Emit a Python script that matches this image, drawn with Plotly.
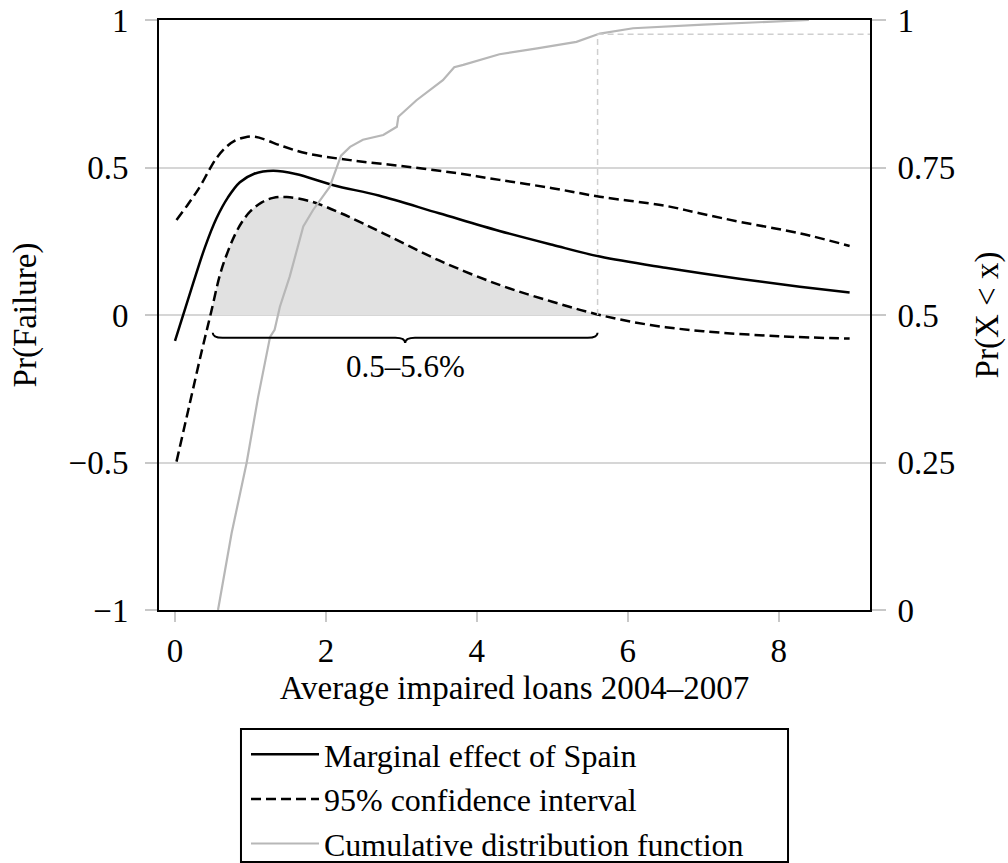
import numpy as np
import plotly.graph_objects as go

# ---- data ----
me_x = [0.0, 0.24, 0.4, 0.55, 0.7, 0.86, 1.05, 1.3, 1.6, 2.1, 2.7, 3.5, 4.3, 5.0, 5.63, 6.5, 7.5, 8.28, 8.94]
me_y = [-0.088, 0.107, 0.232, 0.328, 0.398, 0.45, 0.479, 0.489, 0.478, 0.44, 0.405, 0.345, 0.285, 0.238, 0.198, 0.16, 0.122, 0.096, 0.076]

up_x = [0.02, 0.18, 0.33, 0.45, 0.55, 0.68, 0.8, 0.92, 1.06, 1.44, 1.74, 2.32, 3.0, 3.7, 4.3, 5.0, 5.63, 6.5, 6.95, 7.5, 8.28, 8.94]
up_y = [0.322, 0.378, 0.435, 0.49, 0.532, 0.570, 0.592, 0.602, 0.604, 0.571, 0.548, 0.525, 0.505, 0.482, 0.458, 0.43, 0.401, 0.37, 0.345, 0.315, 0.277, 0.234]

lo_x = [0.02, 0.2, 0.35, 0.47, 0.6, 0.7, 0.8, 0.9, 1.0, 1.15, 1.3, 1.48, 1.8, 2.2, 2.76, 3.5, 4.3, 5.0, 5.63, 6.3, 7.0, 8.0, 8.94]
lo_y = [-0.497, -0.295, -0.127, 0.0, 0.14, 0.215, 0.275, 0.32, 0.352, 0.382, 0.397, 0.40, 0.385, 0.345, 0.277, 0.185, 0.102, 0.045, 0.0, -0.034, -0.055, -0.072, -0.08]

cdf_x = [0.57, 0.75, 0.95, 1.1, 1.26, 1.32, 1.39, 1.52, 1.7, 1.83, 2.05, 2.2, 2.32, 2.49, 2.76, 2.94, 2.96,
         3.2, 3.55, 3.7, 3.82, 4.3, 4.8, 5.32, 5.63, 6.07, 7.0, 7.84, 8.4]
cdf_y = [0.0, 0.13, 0.25, 0.36, 0.463, 0.475, 0.514, 0.565, 0.65, 0.678, 0.717, 0.77, 0.785, 0.797, 0.805, 0.819, 0.836,
         0.864, 0.898, 0.92, 0.924, 0.942, 0.952, 0.963, 0.977, 0.986, 0.992, 0.997, 1.0]

sig_range = [0.5, 5.6]
sig_label = "0.5–5.6%"

x_ticks = [0, 2, 4, 6, 8]
y_ticks = [-1, -0.5, 0, 0.5, 1]
y_ticktext = ["−1", "−0.5", "0", "0.5", "1"]
y2_ticks = [0, 0.25, 0.5, 0.75, 1]
y2_ticktext = ["0", "0.25", "0.5", "0.75", "1"]

FONT = "Liberation Serif"
XR = [-0.212, 9.21]
TICK_SIZE = 33
TITLE_SIZE = 33
LEG_SIZE = 32

# shaded region: positive part of lower CI
lx = np.array(lo_x); ly = np.array(lo_y)
pos = ly >= 0
fx = lx[pos]; fy = ly[pos]

fig = go.Figure()
fig.add_trace(go.Scatter(x=fx, y=fy, mode="lines", fill="tozeroy", fillcolor="#e1e1e1",
                         line=dict(width=0, shape="spline"), showlegend=False, hoverinfo="skip"))

fig.add_trace(go.Scatter(x=me_x, y=me_y, mode="lines", name="Marginal effect of Spain",
                         line=dict(color="black", width=2.5, shape="spline")))
fig.add_trace(go.Scatter(x=up_x, y=up_y, mode="lines", name="95% confidence interval",
                         line=dict(color="black", width=2.5, dash="10px,5px", shape="spline")))
fig.add_trace(go.Scatter(x=lo_x, y=lo_y, mode="lines", showlegend=False,
                         line=dict(color="black", width=2.5, dash="10px,5px", shape="spline")))
fig.add_trace(go.Scatter(x=cdf_x, y=cdf_y, mode="lines", name="Cumulative distribution function",
                         line=dict(color="#b7b7b7", width=2.2), yaxis="y2"))

# reference lines at upper end of significance range
cdf_at = float(np.interp(sig_range[1], cdf_x, cdf_y))
fig.add_shape(type="line", xref="x", yref="y", x0=sig_range[1], x1=sig_range[1], y0=0, y1=2 * cdf_at - 1,
              line=dict(color="#cfcfcf", width=1.5, dash="6px,4px"))
fig.add_shape(type="line", xref="x", yref="y2", x0=sig_range[1], x1=XR[1], y0=cdf_at, y1=cdf_at,
              line=dict(color="#cfcfcf", width=1.5, dash="6px,4px"))

# brace under the significance range
x0, x1 = sig_range
xm = (x0 + x1) / 2
yl, yt, yb = -0.077, -0.060, -0.095
d = 0.13
path = (f"M {x0},{yt} Q {x0},{yl} {x0+d},{yl} L {xm-d},{yl} Q {xm},{yl} {xm},{yb} "
        f"Q {xm},{yl} {xm+d},{yl} L {x1-d},{yl} Q {x1},{yl} {x1},{yt}")
fig.add_shape(type="path", xref="x", yref="y", path=path, line=dict(color="black", width=2))
fig.add_annotation(x=xm, y=-0.175, xref="x", yref="y", text=sig_label, showarrow=False,
                   font=dict(family=FONT, size=31, color="black"))

# legend frame (centred under the axis)
fig.add_shape(type="rect", xref="paper", yref="paper", x0=0.1153, x1=0.8847, y0=-0.4271, y1=-0.2017,
              line=dict(color="black", width=2), fillcolor="rgba(0,0,0,0)")

fig.update_layout(
    width=1008, height=863,
    margin=dict(l=159, r=138, t=20, b=253, autoexpand=False),
    paper_bgcolor="white", plot_bgcolor="white",
    font=dict(family=FONT, size=TICK_SIZE, color="black"),
    xaxis=dict(range=XR, tickvals=x_ticks, ticks="outside", ticklen=10, tickcolor="#c8c8c8", tickwidth=1.5,
               showline=True, linecolor="black", linewidth=2, mirror=True, showgrid=False, zeroline=False,
               title=dict(text="Average impaired loans 2004–2007", standoff=8, font=dict(size=TITLE_SIZE)),
               ticklabelstandoff=0, automargin=False, tickfont=dict(size=TICK_SIZE),
               ticklabeloverflow="allow"),
    yaxis=dict(range=[-1, 1], tickvals=y_ticks, ticktext=y_ticktext, ticks="outside", ticklen=12,
               tickcolor="#c8c8c8", tickwidth=1.5, showline=True, linecolor="black", linewidth=2, mirror=True,
               showgrid=True, gridcolor="#d6d6d6", gridwidth=1.5, zeroline=False,
               title=dict(text="Pr(Failure)", standoff=22, font=dict(size=TITLE_SIZE)),
               ticklabelstandoff=10, automargin=False, tickfont=dict(size=TICK_SIZE),
               ticklabeloverflow="allow"),
    yaxis2=dict(range=[0, 1], tickvals=y2_ticks, ticktext=y2_ticktext, overlaying="y", side="right",
                ticks="outside", ticklen=14, tickcolor="#c8c8c8", tickwidth=1.5, showline=True,
                linecolor="black", linewidth=2, showgrid=False, zeroline=False,
                title=dict(text="Pr(X < x)", standoff=21, font=dict(size=TITLE_SIZE)),
                ticklabelstandoff=5, automargin=False, tickfont=dict(size=TICK_SIZE),
                ticklabeloverflow="allow"),
    legend=dict(x=(246 - 159) / 711, y=(610 - 727) / 590, xanchor="left", yanchor="top",
                borderwidth=0, bgcolor="rgba(0,0,0,0)",
                font=dict(family=FONT, size=LEG_SIZE), itemwidth=68),
)

# remove the page's default 8px body margin so the figure fills the window exactly
fig.write_html("out.html", config={"displayModeBar": False},
               post_script="document.body.style.margin='0';")
